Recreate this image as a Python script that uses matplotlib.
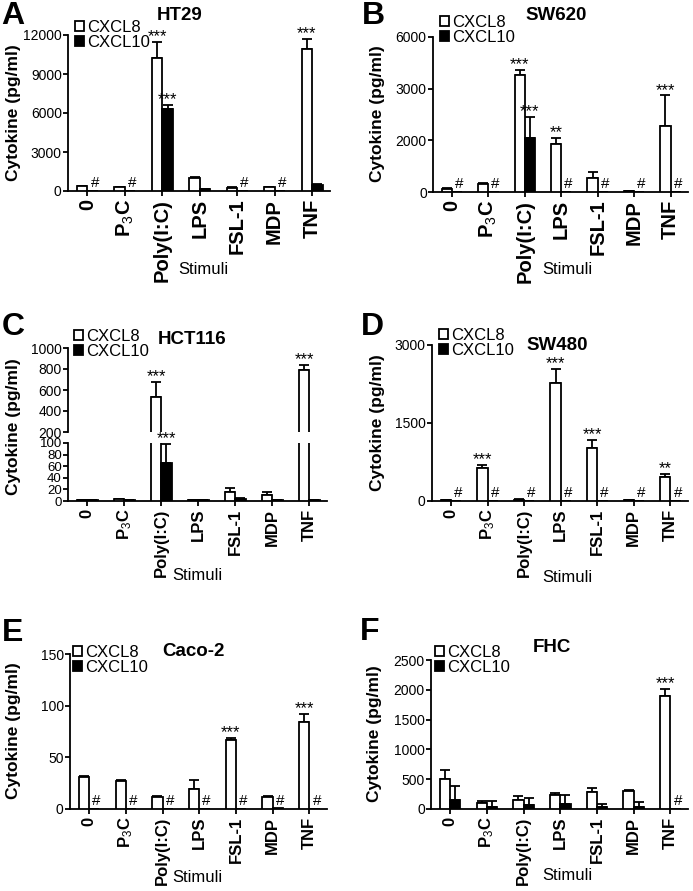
import numpy as np
import matplotlib
matplotlib.use("Agg")
import matplotlib.pyplot as plt
from matplotlib import font_manager as fm

# ---------------- data ----------------
STIMULI = ['0', 'P$_{3}$C', 'Poly(I:C)', 'LPS', 'FSL-1', 'MDP', 'TNF']
SERIES = ['CXCL8', 'CXCL10']

# A HT29
A_C8 = [350, 300, 10200, 1000, 250, 300, 10900]
A_C8E = [50, 40, 1300, 100, 30, 40, 800]
A_C10 = [0, 0, 6300, 150, 0, 0, 500]
A_C10E = [0, 0, 350, 20, 0, 0, 60]
A_SIG8 = {2: '***', 6: '***'}
A_SIG10 = {2: '***'}
A_HASH = [0, 1, 4, 5]
A_TICKS = [0, 3000, 6000, 9000, 12000]

# B SW620
B_C8 = [120, 300, 3800, 1870, 550, 30, 2270]
B_C8E = [20, 50, 300, 170, 220, 5, 600]
B_C10 = [10, 0, 2050, 0, 0, 0, 0]
B_C10E = [0, 0, 410, 0, 0, 0, 0]
B_SIG8 = {2: '***', 3: '**', 6: '***'}
B_SIG10 = {2: '***'}
B_HASH = [0, 1, 3, 4, 5, 6]
B_TICKS = [0, 2000, 3000, 6000]

# C HCT116
C_C8 = [2, 3, 530, 2, 15, 10, 790]
C_C8E = [0.5, 0.5, 150, 0.5, 7, 5, 50]
C_C10 = [2, 2, 66, 2, 4, 2, 2]
C_C10E = [0.3, 0.3, 33, 0.3, 1, 0.3, 0.3]
C_SIG8 = {2: '***', 6: '***'}
C_SIG10 = {2: '***'}
C_HASH = []
C_TICKS_LOW = [0, 20, 40, 60, 80, 100]
C_TICKS_HIGH = [200, 400, 600, 800, 1000]

# D SW480
D_C8 = [15, 640, 25, 2260, 1020, 10, 460]
D_C8E = [3, 50, 5, 280, 150, 2, 65]
D_C10 = [0, 0, 0, 0, 0, 0, 0]
D_C10E = [0, 0, 0, 0, 0, 0, 0]
D_SIG8 = {1: '***', 3: '***', 4: '***', 6: '**'}
D_SIG10 = {}
D_HASH = [0, 1, 2, 3, 4, 5, 6]
D_TICKS = [0, 1500, 3000]

# E Caco-2
E_C8 = [31, 27.5, 12, 19, 67, 12, 84]
E_C8E = [1, 0.8, 0.8, 9, 1.5, 0.5, 8]
E_C10 = [0, 0, 0, 0, 0, 1, 0]
E_C10E = [0, 0, 0, 0, 0, 0, 0]
E_SIG8 = {4: '***', 6: '***'}
E_SIG10 = {}
E_HASH = [0, 1, 2, 3, 4, 5, 6]
E_TICKS = [0, 50, 100, 150]

# F FHC
F_C8 = [500, 100, 150, 240, 280, 300, 1900]
F_C8E = [150, 30, 70, 30, 80, 20, 120]
F_C10 = [150, 40, 60, 90, 30, 40, 0]
F_C10E = [240, 90, 120, 150, 50, 80, 0]
F_SIG8 = {6: '***'}
F_SIG10 = {}
F_HASH = [6]
F_TICKS = [0, 500, 1000, 1500, 2000, 2500]

# ---------------- style ----------------
def has_font(name):
    try:
        fm.findfont(fm.FontProperties(family=name), fallback_to_default=False)
        return True
    except Exception:
        return False

BASE = 'Liberation Sans' if has_font('Liberation Sans') else 'DejaVu Sans'
NARROW = has_font('Liberation Sans Narrow')
TICKFAM = 'Liberation Sans Narrow' if NARROW else BASE
TICKSIZE = 11.5 if NARROW else 10

plt.rcParams['font.family'] = [BASE, 'DejaVu Sans']
plt.rcParams['mathtext.fontset'] = 'custom'
plt.rcParams['mathtext.rm'] = BASE
plt.rcParams['mathtext.it'] = BASE + ':italic'
plt.rcParams['mathtext.bf'] = BASE + ':bold'

W, H = 693, 891
LW = 1.3
WID = 0.28
OFF = 0.14
CAP = 3.5
XLIM = (-0.52, 6.48)

fig = plt.figure(figsize=(W / 100, H / 100), dpi=100)


def rect(x0, x1, yt, yb):
    return [x0 / W, 1 - yb / H, (x1 - x0) / W, (yb - yt) / H]


def style_axes(ax, ticks, show_x=True, xfs=12, yfs=TICKSIZE):
    for s in ['top', 'right']:
        ax.spines[s].set_visible(False)
    for s in ['left', 'bottom']:
        ax.spines[s].set_linewidth(LW)
    ax.set_xlim(*XLIM)
    ax.set_yticks(ticks)
    ax.set_yticklabels([str(t) for t in ticks], fontfamily=TICKFAM, fontsize=yfs)
    ax.tick_params(axis='y', length=3.5, width=LW, pad=1)
    if show_x:
        ax.set_xticks(np.arange(len(STIMULI)))
        ax.set_xticklabels(STIMULI, rotation=90, fontweight='bold', fontsize=xfs)
        ax.tick_params(axis='x', length=3.5, width=LW, pad=2)
    else:
        ax.spines['bottom'].set_visible(False)
        ax.set_xticks([])


def draw(ax, c8, c8e, c10, c10e):
    x = np.arange(len(STIMULI))
    c8, c8e, c10, c10e = map(np.asarray, (c8, c8e, c10, c10e))
    b1 = ax.bar(x - OFF, c8, WID, color='white', edgecolor='black', linewidth=LW,
                label=SERIES[0], zorder=3)
    b2 = ax.bar(x + OFF, c10, WID, color='black', edgecolor='black', linewidth=LW,
                label=SERIES[1], zorder=3)
    for xs, v, e in ((x - OFF, c8, c8e), (x + OFF, c10, c10e)):
        m = e > 0
        if m.any():
            ax.errorbar(xs[m], v[m], yerr=[np.zeros(m.sum()), e[m]], fmt='none',
                        ecolor='black', elinewidth=LW, capsize=CAP, capthick=LW, zorder=2)
    return b1, b2


def annotate(ax, c8, c8e, c10, c10e, sig8, sig10, hashes, fit=None):
    for g, s in sig8.items():
        top = c8[g] + c8e[g]
        if fit is None or fit(top):
            ax.annotate(s, xy=(g - OFF, top), xytext=(0, 0.5), textcoords='offset points',
                        ha='center', va='baseline', fontsize=12)
    for g, s in sig10.items():
        top = c10[g] + c10e[g]
        if fit is None or fit(top):
            ax.annotate(s, xy=(g + OFF, top), xytext=(0, 0.5), textcoords='offset points',
                        ha='center', va='baseline', fontsize=12)
    for g in hashes:
        ax.annotate('#', xy=(g + 0.2, 0), xytext=(0, 3), textcoords='offset points',
                    ha='center', va='baseline', fontsize=11)


def legend(ax, handles, sqx, y1):
    ax.legend(handles=handles, loc='upper left',
              bbox_to_anchor=((sqx) / W, 1 - (y1 - 9) / H), bbox_transform=fig.transFigure,
              frameon=False, borderpad=0, borderaxespad=0, handlelength=0.55, handleheight=0.55,
              handletextpad=0.2, labelspacing=0.0, fontsize=12)


def labels(title, tx, ty, letter, lx, ly, ylx, yly, sx, sy):
    fig.text(tx / W, 1 - ty / H, title, ha='center', va='center', fontsize=13.5, fontweight='bold')
    fig.text(lx / W, 1 - ly / H, letter, ha='center', va='center', fontsize=23, fontweight='bold')
    fig.text(ylx / W, 1 - yly / H, 'Cytokine (pg/ml)', rotation=90, ha='center', va='center',
             fontsize=12.5, fontweight='bold')
    fig.text(sx / W, 1 - sy / H, 'Stimuli', ha='center', va='center', fontsize=12)


# ---- A ----
ax = fig.add_axes(rect(68, 330, 35, 191))
h = draw(ax, A_C8, A_C8E, A_C10, A_C10E)
ax.set_ylim(0, 12000)
style_axes(ax, A_TICKS, xfs=14.5)
annotate(ax, A_C8, A_C8E, A_C10, A_C10E, A_SIG8, A_SIG10, A_HASH)
legend(ax, h, 75, 29)
labels('HT29', 180, 15, 'A', 13, 16, 14, 113, 203, 270)

# ---- B (segmented axis) ----
ax = fig.add_axes(rect(433, 688, 37, 192))
seg = np.arange(len(B_TICKS))
ax.set_yscale('function', functions=(lambda v: np.interp(v, B_TICKS, seg),
                                     lambda v: np.interp(v, seg, B_TICKS)))
h = draw(ax, B_C8, B_C8E, B_C10, B_C10E)
ax.set_ylim(0, 6000)
style_axes(ax, B_TICKS, xfs=14.5)
ax.yaxis.set_minor_locator(matplotlib.ticker.NullLocator())
annotate(ax, B_C8, B_C8E, B_C10, B_C10E, B_SIG8, B_SIG10, B_HASH)
legend(ax, h, 440, 24)
labels('SW620', 556, 15, 'B', 373, 16, 377, 114, 567, 270)

# ---- C (broken axis) ----
axu = fig.add_axes(rect(68, 327, 348, 432))
axl = fig.add_axes(rect(68, 327, 443, 501))
h = draw(axu, C_C8, C_C8E, C_C10, C_C10E)
draw(axl, C_C8, C_C8E, C_C10, C_C10E)
axu.set_ylim(200, 1000)
axl.set_ylim(0, 100)
style_axes(axu, C_TICKS_HIGH, show_x=False)
style_axes(axl, C_TICKS_LOW, yfs=TICKSIZE - 0.5)
annotate(axu, C_C8, C_C8E, C_C10, C_C10E, C_SIG8, {}, [], fit=lambda t: t >= 200)
annotate(axl, C_C8, C_C8E, C_C10, C_C10E, {}, C_SIG10, C_HASH, fit=lambda t: t <= 100)
legend(axu, h, 74, 338)
labels('HCT116', 192, 340, 'C', 13, 327, 14, 427, 197, 575)

# ---- D ----
ax = fig.add_axes(rect(432, 688, 345, 501))
h = draw(ax, D_C8, D_C8E, D_C10, D_C10E)
ax.set_ylim(0, 3000)
style_axes(ax, D_TICKS)
annotate(ax, D_C8, D_C8E, D_C10, D_C10E, D_SIG8, D_SIG10, D_HASH)
legend(ax, h, 439, 337)
labels('SW480', 557, 345, 'D', 372, 327, 377, 423, 567, 578)

# ---- E ----
ax = fig.add_axes(rect(70, 327, 654, 809))
h = draw(ax, E_C8, E_C8E, E_C10, E_C10E)
ax.set_ylim(0, 150)
style_axes(ax, E_TICKS)
annotate(ax, E_C8, E_C8E, E_C10, E_C10E, E_SIG8, E_SIG10, E_HASH)
legend(ax, h, 73, 654)
labels('Caco-2', 193, 652, 'E', 13, 633, 14, 731, 197, 877)

# ---- F ----
ax = fig.add_axes(rect(431, 688, 660, 809))
h = draw(ax, F_C8, F_C8E, F_C10, F_C10E)
ax.set_ylim(0, 2500)
style_axes(ax, F_TICKS)
annotate(ax, F_C8, F_C8E, F_C10, F_C10E, F_SIG8, F_SIG10, F_HASH)
legend(ax, h, 435, 654)
labels('FHC', 552, 648, 'F', 370, 632, 375, 734, 567, 875)

fig.savefig('out.png', dpi=100)
